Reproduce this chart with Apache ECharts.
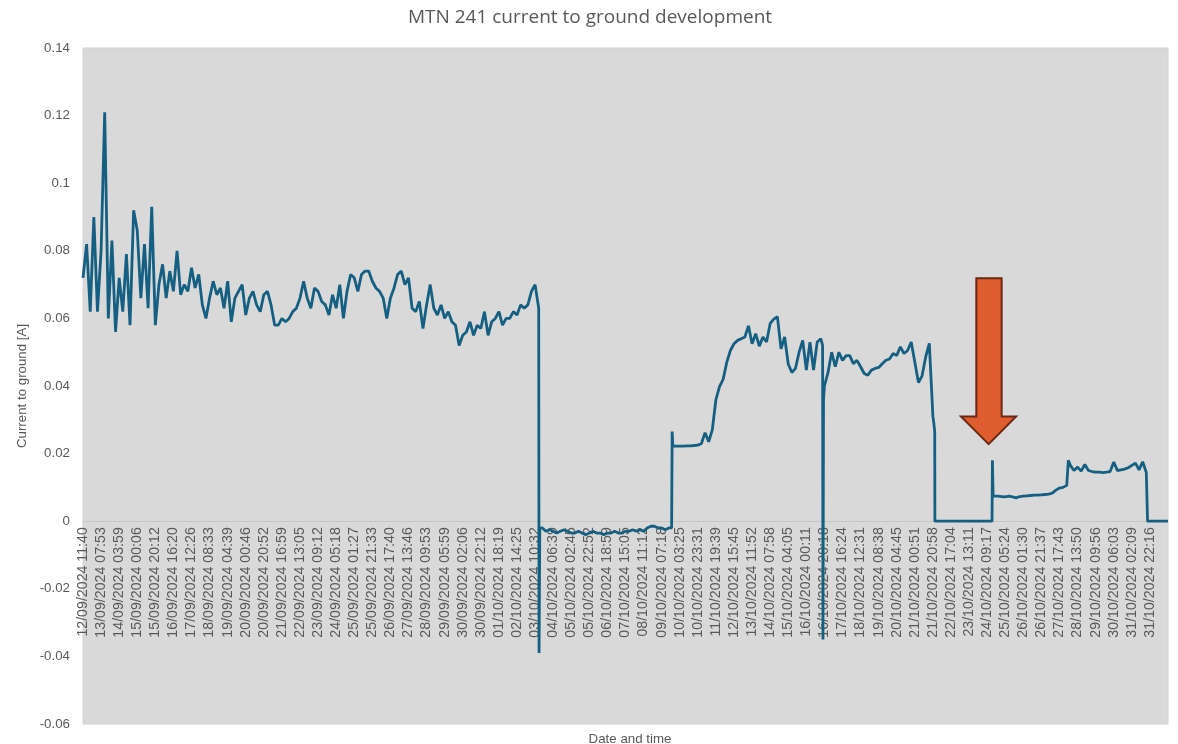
<!DOCTYPE html>
<html>
<head>
<meta charset="utf-8">
<script src="https://cdn.jsdelivr.net/npm/echarts@6/dist/echarts.min.js"></script>
<style>html,body{margin:0;padding:0;background:#fff}#c{width:1178px;height:744px}</style>
</head>
<body>
<div id="c"></div>
<script>
// ---- tick labels of the x axis (one per label step) ----
const xLabels = [
 "12/09/2024 11:40","13/09/2024 07:53","14/09/2024 03:59","15/09/2024 00:06","15/09/2024 20:12",
 "16/09/2024 16:20","17/09/2024 12:26","18/09/2024 08:33","19/09/2024 04:39","20/09/2024 00:46",
 "20/09/2024 20:52","21/09/2024 16:59","22/09/2024 13:05","23/09/2024 09:12","24/09/2024 05:18",
 "25/09/2024 01:27","25/09/2024 21:33","26/09/2024 17:40","27/09/2024 13:46","28/09/2024 09:53",
 "29/09/2024 05:59","30/09/2024 02:06","30/09/2024 22:12","01/10/2024 18:19","02/10/2024 14:25",
 "03/10/2024 10:32","04/10/2024 06:39","05/10/2024 02:45","05/10/2024 22:52","06/10/2024 18:59",
 "07/10/2024 15:05","08/10/2024 11:12","09/10/2024 07:18","10/10/2024 03:25","10/10/2024 23:31",
 "11/10/2024 19:39","12/10/2024 15:45","13/10/2024 11:52","14/10/2024 07:58","15/10/2024 04:05",
 "16/10/2024 00:11","16/10/2024 20:18","17/10/2024 16:24","18/10/2024 12:31","19/10/2024 08:38",
 "20/10/2024 04:45","21/10/2024 00:51","21/10/2024 20:58","22/10/2024 17:04","23/10/2024 13:11",
 "24/10/2024 09:17","25/10/2024 05:24","26/10/2024 01:30","26/10/2024 21:37","27/10/2024 17:43",
 "28/10/2024 13:50","29/10/2024 09:56","30/10/2024 06:03","31/10/2024 02:09","31/10/2024 22:16"
];

// ---- current to ground [A]; x measured in label steps ----
const SAMPLE = 0.2;   // readings every 0.2 label steps inside the runs below

// 12/09 .. 03/10 (starts at step 0)
const septStart = 0;
const septValues = [
 0.072,0.082,0.062,0.090,0.062,0.080,0.121,0.060,0.083,0.056,
 0.072,0.062,0.079,0.058,0.092,0.086,0.066,0.082,0.063,0.093,
 0.058,0.070,0.076,0.066,0.074,0.068,0.080,0.067,0.070,0.068,
 0.075,0.069,0.073,0.064,0.060,0.066,0.071,0.067,0.069,0.063,
 0.071,0.059,0.066,0.068,0.070,0.061,0.066,0.068,0.064,0.062,
 0.067,0.068,0.064,0.058,0.058,
 0.060,0.059,0.060,0.062,0.063,0.066,0.071,0.066,0.063,0.069,
 0.068,0.065,0.064,0.061,0.067,0.063,0.070,0.060,0.068,0.073,
 0.072,0.068,0.073,0.074,0.074,0.071,0.069,0.068,0.066,0.060,
 0.066,0.069,0.073,0.074,0.070,0.072,0.063,0.062,0.065,0.057,
 0.064,0.070,0.063,0.061,0.064,0.060,0.062,0.059,0.058,0.052,
 0.055,0.056,0.059,0.055,0.058,0.057,0.062,0.055,0.059,0.060,
 0.062,0.058,0.060,0.060,0.062,0.061,0.064,0.063,0.064,0.068,
 0.070,0.063
];
const dropOct03 = [[25.22,-0.039],[25.26,-0.002]];

// 03/10 .. 10/10 (slightly negative)
const octLowStart = 25.4;
const octLowValues = [
 -0.002,-0.003,-0.0025,-0.003,-0.0035,-0.003,-0.0025,-0.003,-0.0035,-0.0035,
 -0.003,-0.0035,-0.004,-0.0035,-0.003,-0.0035,-0.0035,-0.004,-0.0035,-0.0035,
 -0.003,-0.0035,-0.0035,-0.003,-0.003,-0.0025,-0.003,-0.0025,-0.003,-0.002,
 -0.0015,-0.0015,-0.002,-0.002,-0.0025,-0.002
];
const stepOct10 = [[32.55,-0.002],[32.58,0.0265],[32.62,0.0222]];

// 10/10 .. 16/10 (rise)
const riseStart = 32.8;
const riseValues = [
 0.0222,0.0222,0.0222,0.0223,0.0223,0.0224,0.0225,0.0230,0.0262,0.0235,
 0.0270,0.0360,0.0398,0.0420,0.0470,0.0505,0.0525,0.0535,0.0540,0.0545,
 0.0578,0.0525,0.0555,0.0518,0.0545,0.0530,0.0585,0.0598,0.0605,0.0510,
 0.0545,0.0465,0.0440,0.0452,0.0500,0.0535,0.0447,0.0530,0.0447,0.0530,
 0.0540
];
const dropOct16 = [[40.9,0.052],[40.92,-0.035],[40.95,0.036]];

// 16/10 .. 21/10
const midStart = 41.0;
const midValues = [
 0.040,0.044,0.050,0.0457,0.050,0.0476,0.049,0.049,0.0466,0.0476,
 0.0457,0.0437,0.0432,0.0447,0.0452,0.0455,0.0466,0.0476,0.048,0.0496,
 0.049,0.0516,0.0496,0.0505,0.053,0.047,0.041,0.043,0.0486,0.0526,
 0.031
];
const fallOct21 = [[47.05,0.029],[47.1,0.0264],[47.11,0],[50.27,0],[50.29,0.018],[50.33,0.0074]];

// 24/10 .. 27/10
const lowStart = 50.4;
const lowValues = [
 0.0074,0.0074,0.0073,0.0072,0.0074,0.0072,0.0069,0.0073,0.0074,0.0075,
 0.0076,0.0077,0.0077,0.0078,0.0079,0.0080,0.0083,0.0092,0.0098,0.0100,
 0.0106
];
const stepOct27 = [[54.47,0.0106],[54.49,0.018]];

// 27/10 .. 31/10
const endStart = 54.6;
const endValues = [
 0.0165,0.0150,0.0160,0.0148,0.0168,0.0150,0.0147,0.0145,0.0145,0.0144,
 0.0145,0.0147,0.0175,0.0150,0.0152,0.0154,0.0158,0.0165,0.0172,0.0152,
 0.0176,0.0144
];
const tailOct31 = [[58.85,0.0144],[58.87,0],[60,0]];

function run(start, values) {
  return values.map((v, i) => [Math.round((start + i * SAMPLE) * 1000) / 1000, v]);
}
const seriesData = [].concat(
  run(septStart, septValues), dropOct03,
  run(octLowStart, octLowValues), stepOct10,
  run(riseStart, riseValues), dropOct16,
  run(midStart, midValues), fallOct21,
  run(lowStart, lowValues), stepOct27,
  run(endStart, endValues), tailOct31
);

// arrow annotation, in axis units
const arrow = { shaftL: 49.4, shaftR: 50.8, headL: 48.55, headR: 51.6, tip: 50.08,
                top: 0.0719, shoulder: 0.0310, point: 0.0228 };

const Y_MIN = -0.06, Y_MAX = 0.14;
const GRID = { left: 83, right: 10, top: 48, bottom: 20 };
const plotH = 744 - GRID.top - GRID.bottom;
const zeroOffset = -plotH * (0 - Y_MIN) / (Y_MAX - Y_MIN);  // lift x axis to y = 0

const TXT = '#595959';
const chart = echarts.init(document.getElementById('c'), null, {renderer: 'canvas'});
chart.setOption({
  animation: false,
  backgroundColor: '#ffffff',
  title: [
    { text: 'MTN 241 current to ground development', left: 585, top: 3, textAlign: 'center',
      textStyle: { fontFamily: 'Open Sans', fontWeight: 'normal', fontSize: 19, color: TXT } },
    { text: 'Date and time', left: 625, top: 728, textAlign: 'center',
      textStyle: { fontFamily: 'Liberation Sans', fontWeight: 'normal', fontSize: 13.3, color: TXT } }
  ],
  grid: { left: GRID.left, right: GRID.right, top: GRID.top, bottom: GRID.bottom,
          containLabel: false, outerBoundsMode: 'none', show: true,
          backgroundColor: '#d9d9d9', borderColor: '#d2d2d2', borderWidth: 1 },
  xAxis: {
    type: 'value', min: 0, max: 60, interval: 1, position: 'bottom', offset: zeroOffset,
    axisLine: { show: true, onZero: false, lineStyle: { color: '#c6c6c6', width: 1 } },
    axisTick: { show: false },
    splitLine: { show: false },
    axisLabel: {
      rotate: 90, margin: 6, fontFamily: 'Liberation Sans', fontSize: 14.2, color: TXT,
      formatter: v => xLabels[Math.round(v)] || ''
    }
  },
  yAxis: {
    type: 'value', min: Y_MIN, max: Y_MAX, interval: 0.02,
    name: 'Current to ground [A]', nameLocation: 'middle', nameGap: 50,
    nameTextStyle: { fontFamily: 'Liberation Sans', fontSize: 13.3, color: TXT },
    axisLine: { show: false }, axisTick: { show: false }, splitLine: { show: false },
    axisLabel: { margin: 13, fontFamily: 'Liberation Sans', fontSize: 13.3, color: TXT }
  },
  series: [{
    type: 'line', data: seriesData, showSymbol: false, sampling: null,
    lineStyle: { color: '#156082', width: 2.8 }, z: 3
  }]
});

function px(x, y) { return chart.convertToPixel({gridIndex: 0}, [x, y]); }
chart.setOption({
  graphic: [{
    type: 'polygon', z: 10,
    shape: { points: [
      px(arrow.shaftL, arrow.top), px(arrow.shaftR, arrow.top),
      px(arrow.shaftR, arrow.shoulder), px(arrow.headR, arrow.shoulder),
      px(arrow.tip, arrow.point), px(arrow.headL, arrow.shoulder),
      px(arrow.shaftL, arrow.shoulder)
    ] },
    style: { fill: '#e05d30', stroke: '#6b2812', lineWidth: 2, lineJoin: 'miter' }
  }]
});
</script>
</body>
</html>
